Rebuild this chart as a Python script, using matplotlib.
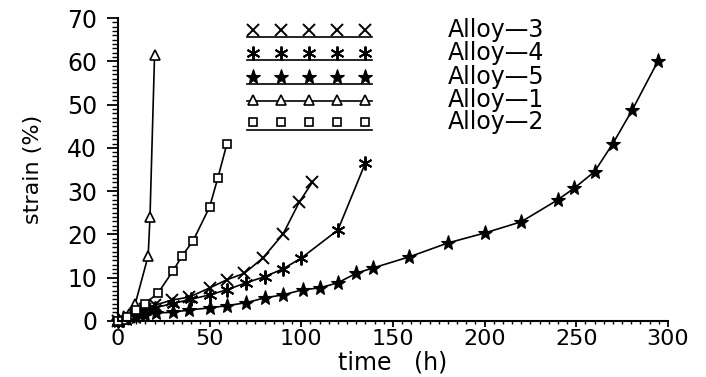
import numpy as np
import matplotlib
matplotlib.use("Agg")
import matplotlib.pyplot as plt
from matplotlib.ticker import MultipleLocator

# creep curves: time (h) vs strain (%)
t1 = [0, 3, 6, 9.5, 16.5, 17.5, 20]
s1 = [0, 0.5, 1.5, 4, 15, 24, 61.5]

t2 = [0, 5, 10, 15, 22, 30, 35, 41, 50, 54.5, 59.5]
s2 = [0, 1, 2.5, 4, 6.5, 11.5, 15, 18.5, 26.3, 33, 41]

t3 = [0, 3, 6, 10, 15, 20, 29.5, 39, 50, 59.5, 69, 79, 90, 99, 106]
s3 = [0, 0.5, 1, 1.8, 2.8, 3.6, 4.8, 5.5, 7.6, 9.5, 11, 14.5, 20, 27.5, 32]

t4 = [0, 3, 6, 10, 15, 20, 30, 40, 50, 59.5, 70, 80, 90, 100, 120, 135]
s4 = [0, 0.3, 0.8, 1.5, 2.3, 3, 4, 5, 6, 7.2, 8.8, 10.2, 12, 14.5, 21, 36.5]

t5 = [0, 5, 10, 15, 21, 30, 39, 50, 59.5, 70, 80, 90, 101, 110, 120, 130,
      139, 159, 180, 200, 220, 240, 249, 260, 270, 280.5, 294.5]
s5 = [0, 0.5, 1, 1.3, 1.8, 2, 2.5, 3, 3.5, 4.2, 5.3, 6, 7.2, 7.6, 8.8, 11,
      12.2, 14.8, 18, 20.3, 22.9, 28, 30.7, 34.5, 41, 48.7, 60]

labels = ["Alloy\u20143", "Alloy\u20144", "Alloy\u20145", "Alloy\u20141", "Alloy\u20142"]

plt.rcParams['font.family'] = 'DejaVu Sans'

fig = plt.figure(figsize=(7.06, 3.77), dpi=100)
ax = fig.add_axes([0.167, 0.149, 0.779, 0.803])

# marker style per series, same order as labels
styles = [
    dict(marker='x', ms=9, mew=1.4, mfc='none'),
    dict(marker=(6, 2, 0), ms=10, mew=1.4, mfc='none'),
    dict(marker='*', ms=11, mew=0.8, mfc='black'),
    dict(marker='^', ms=7, mew=1.2, mfc='white'),
    dict(marker='s', ms=6, mew=1.2, mfc='white'),
]
series = [(t3, s3), (t4, s4), (t5, s5), (t1, s1), (t2, s2)]

for (t, s), st in zip(series, styles):
    ax.plot(t, s, color='black', lw=1.2, mec='black', clip_on=False, **st)

ax.set_xlim(0, 300)
ax.set_ylim(0, 70)
ax.xaxis.set_major_locator(MultipleLocator(50))
ax.xaxis.set_minor_locator(MultipleLocator(5))
ax.yaxis.set_major_locator(MultipleLocator(10))
ax.yaxis.set_minor_locator(MultipleLocator(1))

for side in ['top', 'right']:
    ax.spines[side].set_visible(False)
for side in ['left', 'bottom']:
    ax.spines[side].set_linewidth(1.5)

ax.tick_params(axis='y', which='major', length=8, width=1.3, pad=7, labelsize=17)
ax.tick_params(axis='y', which='minor', length=4, width=1.0)
ax.tick_params(axis='x', which='major', length=4, width=1.3, pad=2, labelsize=16)
ax.tick_params(axis='x', which='minor', length=2.5, width=1.0)

ax.set_xlabel("time   (h)", fontsize=17, labelpad=1)
ax.set_ylabel("strain (%)", fontsize=16, labelpad=17)

# hand-drawn style key: five markers over a rule, label to the right
rows_y = [0.960, 0.884, 0.805, 0.729, 0.657]
rule_off = [-0.022, -0.022, -0.022, -0.004, -0.028]
mx = np.linspace(0.245, 0.449, 5)
for y, off, st, lab in zip(rows_y, rule_off, styles, labels):
    ax.plot([0.235, 0.462], [y + off, y + off], color='black', lw=1.2,
            transform=ax.transAxes, clip_on=False)
    ax.plot(mx, [y] * 5, ls='none', color='black', mec='black',
            transform=ax.transAxes, clip_on=False, **st)
    ax.text(0.6, y, lab, fontsize=17, va='center', ha='left',
            transform=ax.transAxes)

fig.savefig("out.png", dpi=100)
